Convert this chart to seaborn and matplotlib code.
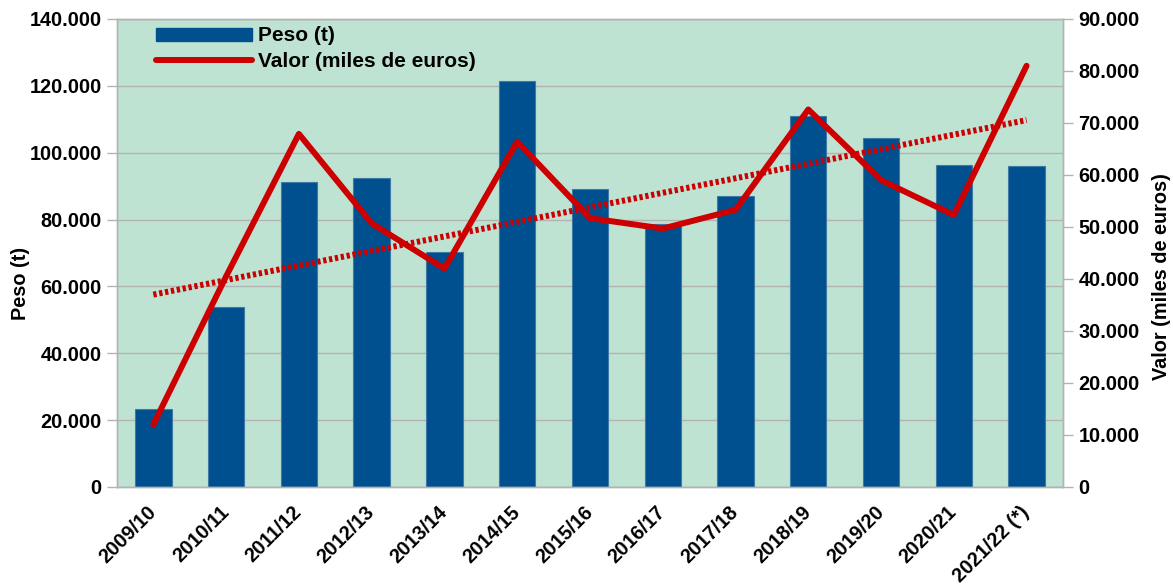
import numpy as np
import pandas as pd
import matplotlib.pyplot as plt
from matplotlib.ticker import FuncFormatter, MultipleLocator
from matplotlib.patches import Patch
from matplotlib.lines import Line2D
import seaborn as sns

# campañas y series
campanas = ['2009/10', '2010/11', '2011/12', '2012/13', '2013/14', '2014/15', '2015/16',
            '2016/17', '2017/18', '2018/19', '2019/20', '2020/21', '2021/22 (*)']
peso = [23300, 53800, 91100, 92500, 70400, 121500, 89100, 78600, 87000, 111100, 104300, 96300, 96000]
valor = [12000, 40500, 67900, 50700, 42000, 66400, 51700, 49700, 53300, 72600, 59000, 52300, 81000]

AZUL = '#00508f'
ROJO = '#cc0000'
GRIS = '#b3b3b3'
FONDO = '#bfe3d3'
FS = 14.3

sns.set_style('white')
plt.rcParams['font.family'] = ['Liberation Sans', 'DejaVu Sans']
plt.rcParams['font.weight'] = 'bold'
plt.rcParams['text.color'] = 'black'
plt.rcParams['axes.labelcolor'] = 'black'

df = pd.DataFrame({'campana': campanas, 'peso': peso, 'valor': valor})
df['pos'] = np.arange(len(df))


def miles(v, pos):
    return f'{int(round(v)):,}'.replace(',', '.')


fig, ax = plt.subplots(figsize=(11.73, 5.88), dpi=100)
fig.subplots_adjust(left=0.0997, right=0.9062, top=0.9677, bottom=0.1718)
ax.set_facecolor(FONDO)

sns.barplot(data=df, x='pos', y='peso', ax=ax, color=AZUL, saturation=1, width=0.5,
            edgecolor='#3d7aa6', linewidth=0.8, legend=False)

ax2 = ax.twinx()
sns.lineplot(data=df, x='pos', y='valor', ax=ax2, color=ROJO, linewidth=4.3, legend=False)

# linea de tendencia (regresion lineal del valor)
coef = np.polyfit(df['pos'], df['valor'], 1)
ax2.plot(df['pos'], np.polyval(coef, df['pos']), color=ROJO, linewidth=4.3,
         dashes=(0.55, 0.45), dash_capstyle='butt')

ax.set_xlim(-0.5, len(campanas) - 0.5)
ax.set_ylim(0, 140000)
ax2.set_ylim(0, 90000)
ax.yaxis.set_major_locator(MultipleLocator(20000))
ax2.yaxis.set_major_locator(MultipleLocator(10000))
ax.yaxis.set_major_formatter(FuncFormatter(miles))
ax2.yaxis.set_major_formatter(FuncFormatter(miles))

ax.set_axisbelow(True)
ax.yaxis.grid(True, color=GRIS, linewidth=1)
ax.xaxis.grid(False)

ax.set_xticks(df['pos'])
ax.set_xticklabels(campanas, rotation=45, ha='right', va='center', rotation_mode='anchor',
                   fontsize=FS, fontweight='bold')
ax.set_xticks(np.arange(-0.5, len(campanas), 1), minor=True)
ax.tick_params(axis='x', which='major', length=0, pad=16, labelcolor='black')
ax.tick_params(axis='x', which='minor', length=8, color=GRIS, width=1)
ax.tick_params(axis='y', length=7, color=GRIS, width=1, labelsize=FS, pad=4, labelcolor='black')
ax2.tick_params(axis='y', length=7, color=GRIS, width=1, labelsize=FS, pad=4, labelcolor='black')
for lab in ax.get_yticklabels() + ax2.get_yticklabels():
    lab.set_fontweight('bold')

for a in (ax, ax2):
    for s in a.spines.values():
        s.set_color(GRIS)
        s.set_linewidth(1)

ax.set_xlabel('')
ax.set_ylabel('Peso (t)', fontsize=FS, fontweight='bold', color='black')
ax.yaxis.set_label_coords(-0.092, 0.436)
ax2.set_ylabel('Valor (miles de euros)', fontsize=FS, fontweight='bold', color='black')
ax2.yaxis.set_label_coords(1.094, 0.449)

handles = [Patch(facecolor=AZUL, edgecolor=AZUL),
           Line2D([0], [0], color=ROJO, linewidth=4.3)]
leg = ax2.legend(handles, ['Peso (t)', 'Valor (miles de euros)'], loc='upper left',
                 bbox_to_anchor=(0.041, 0.984), frameon=False,
                 prop={'weight': 'bold', 'size': 15}, handlelength=4.6, handleheight=0.6,
                 handletextpad=0.3, labelspacing=0.3, borderpad=0, borderaxespad=0)
for t in leg.get_texts():
    t.set_color('black')

fig.savefig('out.png', dpi=100)
